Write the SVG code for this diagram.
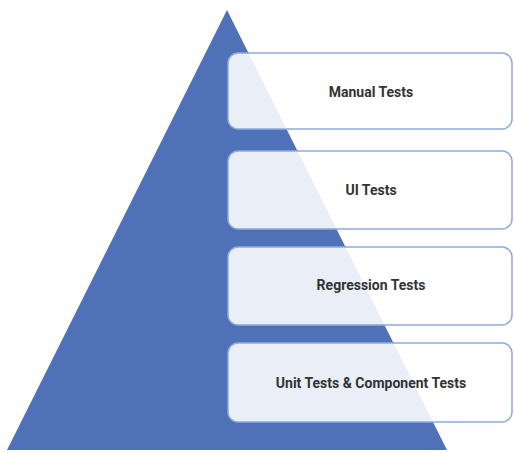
<svg xmlns="http://www.w3.org/2000/svg" width="514" height="453" viewBox="0 0 514 453">
<style>
.box{fill:#ffffff;fill-opacity:0.88;stroke:#8eaadf;stroke-width:1.5}
.lbl{font-family:Roboto,"Liberation Sans",sans-serif;font-weight:bold;font-size:14px;fill:#333333;text-anchor:middle}
</style>
<rect width="514" height="453" fill="#ffffff"/>
<g id="pyramid">
<polygon points="227,10 7,450 447,450" fill="#4f71b8"/>
</g>
<g id="connectors"></g>
<g id="manual">
<rect class="box" x="228" y="53" width="284" height="76" rx="10"/>
<text class="lbl" x="371" y="97">Manual Tests</text>
</g>
<g id="ui">
<rect class="box" x="228" y="151" width="284" height="78" rx="10"/>
<text class="lbl" x="371" y="195">UI Tests</text>
</g>
<g id="regression">
<rect class="box" x="228" y="247" width="284" height="78" rx="10"/>
<text class="lbl" x="371" y="290">Regression Tests</text>
</g>
<g id="unit">
<rect class="box" x="228" y="343" width="284" height="79" rx="10"/>
<text class="lbl" x="371" y="388">Unit Tests &amp; Component Tests</text>
</g>
</svg>
